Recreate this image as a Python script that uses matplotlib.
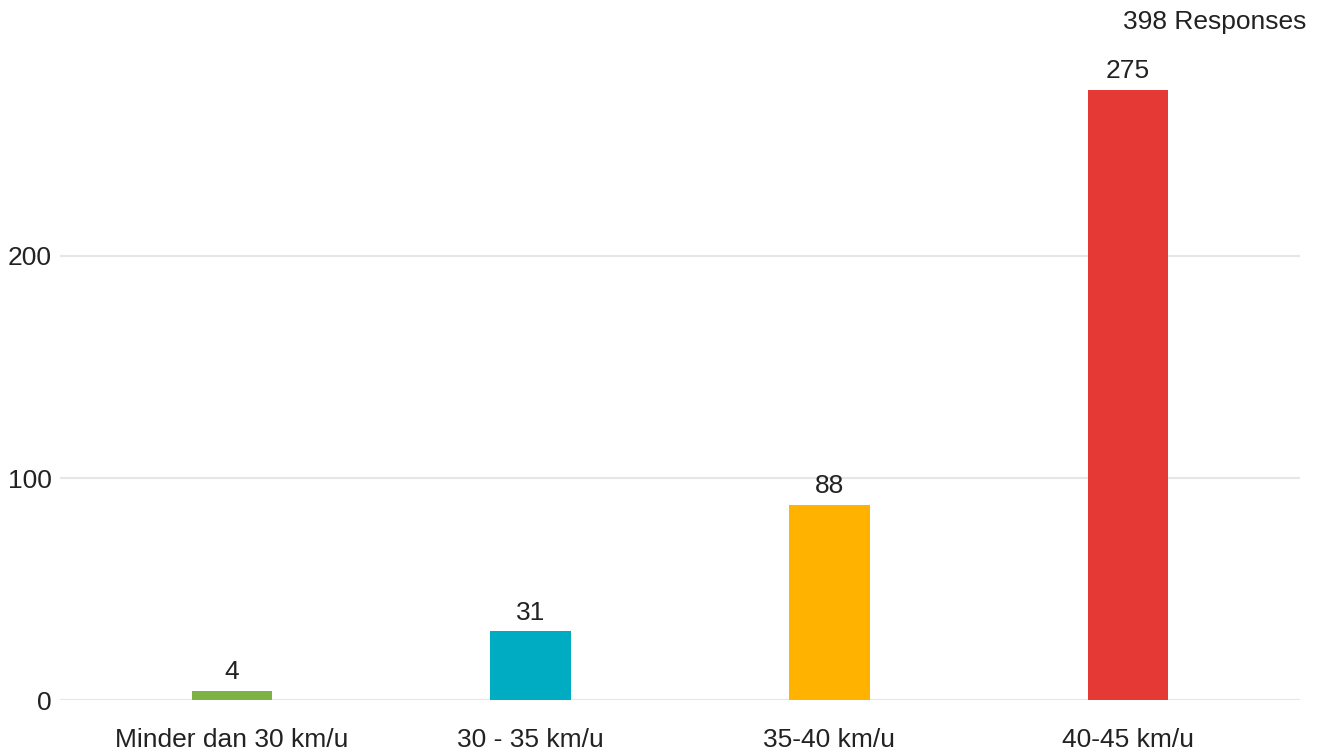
import matplotlib.pyplot as plt

plt.rcParams['font.family'] = ['Liberation Sans', 'DejaVu Sans']

# --- data ---
categories = ["Minder dan 30 km/u", "30 - 35 km/u", "35-40 km/u", "40-45 km/u"]
counts = [4, 31, 88, 275]
colors = ["#7cb342", "#00acc1", "#ffb300", "#e53935"]
y_ticks = [0, 100, 200]
total_label = "398 Responses"

fig = plt.figure(figsize=(13.25, 7.52), dpi=100)
ax = fig.add_axes([60 / 1325, 52 / 752, 1240 / 1325, 666 / 752])

x = range(len(categories))
bars = ax.bar(x, counts, width=0.27, color=colors, zorder=3)

for xi, v in zip(x, counts):
    ax.text(xi, v + 3, str(v), ha="center", va="bottom", fontsize=19, color="#222222")

ax.set_xlim(-0.576, 3.576)
ax.set_ylim(0, 300)
ax.set_yticks(y_ticks)
ax.set_xticks(list(x))
ax.set_xticklabels(categories)
ax.yaxis.grid(True, color="#e6e6e6", linewidth=1.5, zorder=0)
ax.tick_params(axis="both", length=0, labelsize=19, labelcolor="#222222")
ax.tick_params(axis="y", pad=6)
ax.tick_params(axis="x", pad=20)
for s in ax.spines.values():
    s.set_visible(False)

fig.text(1306 / 1325, 1 - 22 / 752, total_label, ha="right", va="center",
         fontsize=19, color="#222222")

fig.savefig("out.png", dpi=100)
